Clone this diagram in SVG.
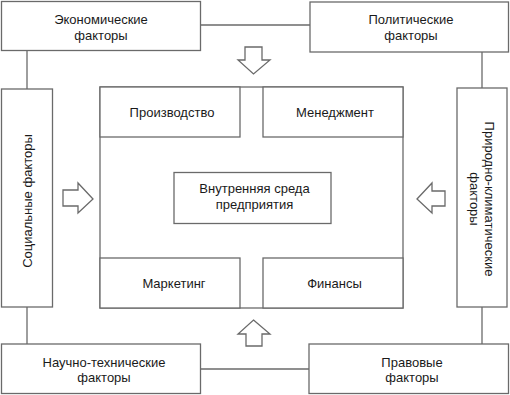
<svg xmlns="http://www.w3.org/2000/svg" width="510" height="395" viewBox="0 0 510 395">
<style>
rect, line, polygon { fill: #fff; stroke: #6a6a6a; stroke-width: 1.3; }
line { fill: none; }
text { font-family: "Liberation Sans", Arial, sans-serif; font-size: 13px; fill: #1a1a1a; text-anchor: middle; }
</style>
<rect x="0" y="0" width="510" height="395" style="stroke:none;fill:#fff"/>
<g id="connectors">
  <line x1="200" y1="25" x2="310" y2="25"/>
  <line x1="27" y1="50" x2="27" y2="89"/>
  <line x1="27" y1="307" x2="27" y2="344"/>
  <line x1="200" y1="369" x2="309" y2="369"/>
  <line x1="482" y1="52" x2="482" y2="88"/>
  <line x1="482" y1="307" x2="482" y2="344"/>
  <polygon points="245,47 262,47 262,60 270,60 253.5,74 238,60 245,60"/>
  <polygon points="253.5,320 270,334 262,334 262,346 246,346 246,334 238,334"/>
  <polygon points="63,190 78,190 78,183 93,199 78,213 78,206 63,206"/>
  <polygon points="417,199 432,183 432,191 445,191 445,206 432,206 432,213"/>
</g>
<g id="economic">
  <rect x="1.5" y="1.5" width="199" height="49"/>
  <text x="101" y="24">Экономические</text>
  <text x="101" y="39.5">факторы</text>
</g>
<g id="political">
  <rect x="310" y="2" width="198.5" height="50"/>
  <text x="411" y="24">Политические</text>
  <text x="411" y="39.5">факторы</text>
</g>
<g id="social">
  <rect x="1.5" y="89" width="51" height="218"/>
  <text transform="translate(31.5,201) rotate(-90)" x="0" y="0">Социальные факторы</text>
</g>
<g id="natural">
  <rect x="457" y="88" width="50" height="219"/>
  <text transform="translate(485,199) rotate(90)" x="0" y="0">Природно-климатические</text>
  <text transform="translate(470,199) rotate(90)" x="0" y="0">факторы</text>
</g>
<g id="scitech">
  <rect x="1.5" y="344" width="199" height="49.5"/>
  <text x="104" y="367">Научно-технические</text>
  <text x="104" y="382">факторы</text>
</g>
<g id="legal">
  <rect x="309" y="344" width="199.5" height="49.5"/>
  <text x="412" y="367">Правовые</text>
  <text x="412" y="382">факторы</text>
</g>
<g id="enterprise">
  <rect x="100" y="87" width="303" height="221"/>
</g>
<g id="production">
  <rect x="100" y="87" width="140" height="50"/>
  <text x="172" y="117">Производство</text>
</g>
<g id="management">
  <rect x="263" y="87" width="140" height="50"/>
  <text x="335" y="117">Менеджмент</text>
</g>
<g id="marketing">
  <rect x="100" y="258" width="140" height="50"/>
  <text x="174" y="288">Маркетинг</text>
</g>
<g id="finance">
  <rect x="263" y="258" width="140" height="50"/>
  <text x="334.5" y="288">Финансы</text>
</g>
<g id="internal">
  <rect x="174" y="172.5" width="157" height="51"/>
  <text x="254.5" y="193">Внутренняя среда</text>
  <text x="254.5" y="209">предприятия</text>
</g>
</svg>
